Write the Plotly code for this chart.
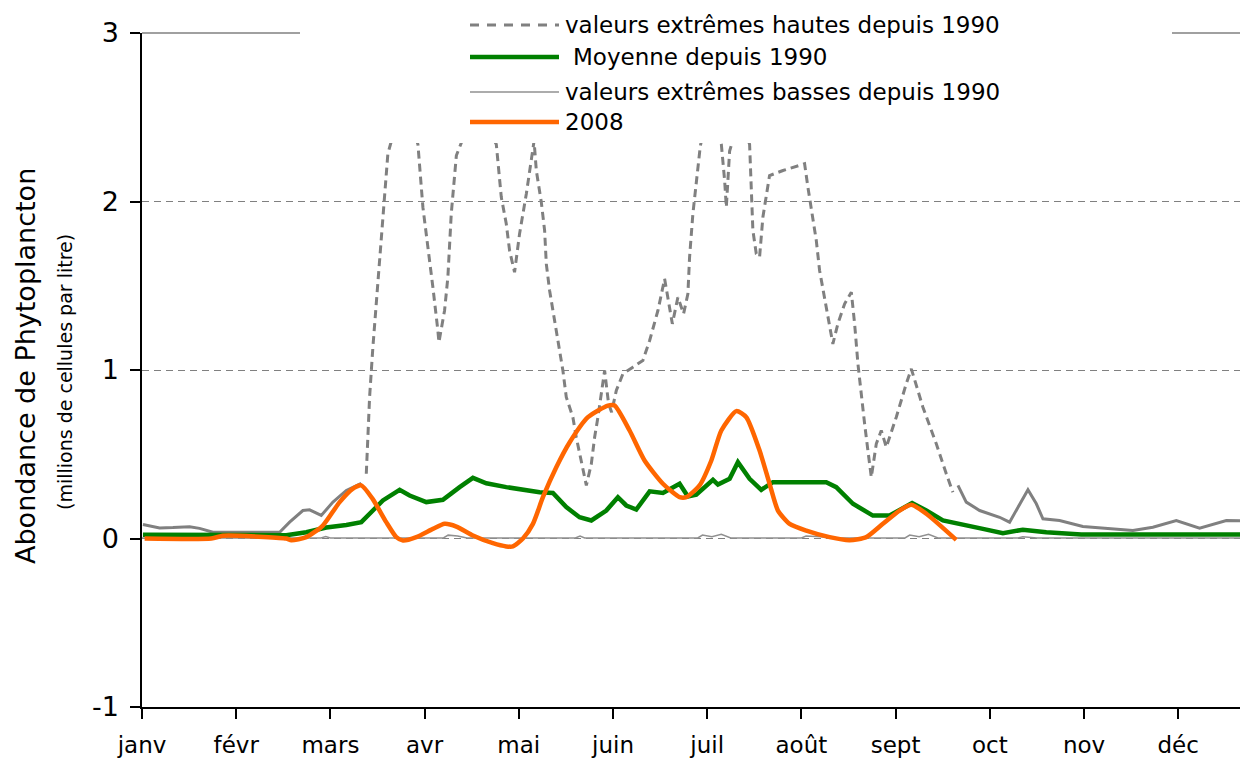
import plotly.graph_objects as go

# ---------------- data (x in months since 1 Jan, values in millions of cells / litre) ----------------
months = ["janv", "févr", "mars", "avr", "mai", "juin", "juil", "août", "sept", "oct", "nov", "déc"]
y_ticks = [-1, 0, 1, 2, 3]
y_tick_text = ["-1", "0", "1", "2", "3"]

high_x = [0.01, 0.187, 0.328, 0.505, 0.611, 0.753, 1.461, 1.567, 1.708, 1.779, 1.903, 2.027, 2.169, 2.328,
          2.381, 2.416, 2.451, 2.487, 2.522, 2.557, 2.610, 2.766, 2.929, 2.982, 3.053, 3.088, 3.141, 3.152,
          3.212, 3.247, 3.283, 3.337, 3.531, 3.761, 3.814, 3.867, 3.902, 3.955, 4.008, 4.080, 4.150, 4.162,
          4.186, 4.239, 4.274, 4.292, 4.327, 4.380, 4.415, 4.468, 4.504, 4.574, 4.610, 4.663, 4.717, 4.770,
          4.805, 4.840, 4.876, 4.911, 4.953, 4.985, 5.035, 5.105, 5.211, 5.317, 5.389, 5.477, 5.548, 5.630,
          5.689, 5.749, 5.795, 5.813, 5.848, 5.884, 5.927, 6.036, 6.150, 6.185, 6.203, 6.238, 6.344, 6.450,
          6.468, 6.485, 6.521, 6.556, 6.591, 6.662, 6.804, 6.946, 7.034, 7.069, 7.105, 7.158, 7.193, 7.246,
          7.281, 7.334, 7.387, 7.459, 7.530, 7.565, 7.600, 7.636, 7.671, 7.706, 7.742, 7.795, 7.848, 7.901,
          8.007, 8.113, 8.167, 8.290, 8.432, 8.538, 8.608, 8.662, 8.750, 8.892, 9.104, 9.210, 9.298, 9.405,
          9.494, 9.564, 9.741, 9.988, 10.519, 10.731, 10.980, 11.227, 11.511, 11.66]
high_y = [0.083, 0.063, 0.065, 0.07, 0.06, 0.037, 0.037, 0.097, 0.166, 0.17, 0.137, 0.216, 0.285, 0.328,
          0.384, 0.839, 1.135, 1.393, 1.66, 1.907, 2.283, 2.6, 2.34, 1.966, 1.67, 1.491, 1.234, 1.165,
          1.353, 1.551, 1.927, 2.273, 2.55, 2.34, 2.026, 1.868, 1.709, 1.58, 1.808, 2.046, 2.313, 2.36,
          2.184, 1.996, 1.828, 1.63, 1.472, 1.294, 1.175, 0.997, 0.839, 0.72, 0.601, 0.463, 0.315, 0.443,
          0.601, 0.72, 0.878, 0.997, 0.80, 0.75, 0.878, 0.977, 1.017, 1.056, 1.175, 1.353, 1.541, 1.274,
          1.432, 1.333, 1.452, 1.67, 1.927, 2.125, 2.33, 2.6, 2.34, 2.125, 1.966, 2.30, 2.5, 2.34,
          2.026, 1.828, 1.69, 1.67, 1.907, 2.154, 2.184, 2.208, 2.224, 2.085, 1.947, 1.769, 1.591, 1.432,
          1.313, 1.155, 1.274, 1.393, 1.462, 1.274, 1.037, 0.839, 0.681, 0.522, 0.364, 0.562, 0.641, 0.542,
          0.72, 0.918, 1.007, 0.779, 0.562, 0.384, 0.275, 0.315, 0.216, 0.166, 0.126, 0.097, 0.186, 0.289,
          0.206, 0.117, 0.107, 0.071, 0.047, 0.067, 0.107, 0.061, 0.107, 0.105]

mean_x = [0.01, 1.532, 1.744, 1.956, 2.169, 2.328, 2.451, 2.557, 2.735, 2.841, 3.018, 3.194, 3.372, 3.513,
          3.655, 3.867, 4.221, 4.362, 4.504, 4.645, 4.770, 4.929, 5.052, 5.141, 5.247, 5.389, 5.530, 5.707,
          5.795, 5.884, 6.061, 6.114, 6.238, 6.326, 6.450, 6.574, 6.697, 7.264, 7.370, 7.547, 7.759, 7.936,
          8.175, 8.326, 8.502, 8.786, 8.927, 9.139, 9.351, 9.600, 9.971, 11.66]
mean_y = [0.022, 0.02, 0.037, 0.065, 0.08, 0.097, 0.166, 0.226, 0.289, 0.255, 0.216, 0.23, 0.305, 0.36,
          0.328, 0.305, 0.275, 0.27, 0.186, 0.126, 0.107, 0.166, 0.245, 0.196, 0.172, 0.28, 0.27, 0.325,
          0.249, 0.26, 0.348, 0.32, 0.354, 0.453, 0.354, 0.289, 0.334, 0.334, 0.305, 0.206, 0.136, 0.136,
          0.21, 0.166, 0.107, 0.077, 0.057, 0.032, 0.052, 0.037, 0.024, 0.024]

low_x = [0.0, 1.9, 1.95, 2.0, 3.2, 3.25, 3.35, 3.45, 4.6, 4.65, 4.7, 5.9, 5.95, 6.05, 6.15, 6.25,
         7.0, 7.05, 7.2, 7.3, 8.1, 8.15, 8.25, 8.35, 8.45, 9.3, 9.35, 9.5, 11.66]
low_y = [0.003, 0.003, 0.012, 0.003, 0.003, 0.02, 0.015, 0.003, 0.003, 0.015, 0.003, 0.003, 0.02, 0.01,
         0.025, 0.003, 0.003, 0.015, 0.01, 0.003, 0.003, 0.02, 0.01, 0.025, 0.003, 0.003, 0.01, 0.003, 0.003]

y2008_x = [0.028, 0.736, 0.856, 1.036, 1.532, 1.585, 1.744, 1.920, 2.098, 2.236, 2.328, 2.448, 2.593, 2.700,
           2.770, 2.912, 3.088, 3.212, 3.337, 3.513, 3.725, 3.867, 3.937, 4.044, 4.150, 4.256, 4.398, 4.539,
           4.734, 4.946, 5.017, 5.176, 5.335, 5.530, 5.707, 5.778, 5.919, 6.044, 6.150, 6.309, 6.415, 6.556,
           6.662, 6.751, 6.875, 7.052, 7.299, 7.511, 7.689, 7.865, 8.042, 8.167, 8.326, 8.644]
y2008_y = [0.0, 0.0, 0.016, 0.016, 0.0, -0.01, 0.008, 0.077, 0.216, 0.295, 0.315, 0.235, 0.097, 0.008,
           -0.012, 0.008, 0.057, 0.087, 0.071, 0.018, -0.028, -0.047, -0.047, 0.0, 0.087, 0.245, 0.423, 0.57,
           0.72, 0.789, 0.789, 0.641, 0.463, 0.325, 0.245, 0.245, 0.315, 0.463, 0.641, 0.756, 0.72, 0.522,
           0.325, 0.166, 0.087, 0.047, 0.008, -0.01, 0.008, 0.087, 0.166, 0.2, 0.147, -0.008]

legend_labels = ["valeurs extrêmes hautes depuis 1990", "Moyenne depuis 1990",
                 "valeurs extrêmes basses depuis 1990", "2008"]

# ---------------- styles ----------------
GRAY = "#808080"
LOWGRAY = "#909090"
GREEN = "#008000"
ORANGE = "#FF6600"
FONT = "DejaVu Sans"

# the high-extreme series looks solid where it is flat (winter tails) and dashed elsewhere
DASH_START, DASH_END = 2.33, 8.61
high_dashed = [y if DASH_START - 1e-9 <= x <= DASH_END + 1e-9 else None for x, y in zip(high_x, high_y)]
high_solid = [y if (x <= DASH_START + 1e-9 or x >= DASH_END - 1e-9) else None for x, y in zip(high_x, high_y)]

fig = go.Figure()
fig.add_trace(go.Scatter(x=high_x, y=high_dashed, mode="lines", name=legend_labels[0],
                         line=dict(color=GRAY, width=3, dash="8px,5px"), connectgaps=False,
                         showlegend=False))
fig.add_trace(go.Scatter(x=high_x, y=high_solid, mode="lines", name=legend_labels[0],
                         line=dict(color=GRAY, width=3), connectgaps=False, showlegend=False))
fig.add_trace(go.Scatter(x=low_x, y=low_y, mode="lines", name=legend_labels[2],
                         line=dict(color=LOWGRAY, width=1.5), showlegend=False))
fig.add_trace(go.Scatter(x=mean_x, y=mean_y, mode="lines", name=legend_labels[1],
                         line=dict(color=GREEN, width=4.5), showlegend=False))
fig.add_trace(go.Scatter(x=y2008_x, y=y2008_y, mode="lines", name=legend_labels[3],
                         line=dict(color=ORANGE, width=4.5, shape="spline", smoothing=0.6), showlegend=False))

# ---------------- layout geometry ----------------
W, H = 1240, 760
ML, MR, MT, MB = 142, 0, 33, 53
PW, PH = W - ML - MR, H - MT - MB
MONTH_PX = 94.2
XMAX = PW / MONTH_PX


def px_x(p):
    return (p - ML) / PW


def px_y(p):
    return (H - MB - p) / PH


shapes = [
    # solid top border of plot area at y = 3
    dict(type="line", xref="paper", yref="paper", x0=0, x1=1, y0=1, y1=1,
         line=dict(color=GRAY, width=1.5), layer="below"),
    # opaque legend box (hides the tops of the peaks and the border)
    dict(type="rect", xref="paper", yref="paper", x0=px_x(300), x1=px_x(1172), y0=px_y(143), y1=px_y(-5),
         fillcolor="white", line=dict(width=0), layer="above"),
]

legend_rows = [25, 57, 92, 122]
legend_styles = [dict(color=GRAY, width=3, dash="9px,8px"), dict(color=GREEN, width=4.5),
                 dict(color=LOWGRAY, width=1.5), dict(color=ORANGE, width=4.5)]
text_x = [563, 571, 563, 563]
annotations = []
for row, style, label, tx in zip(legend_rows, legend_styles, legend_labels, text_x):
    shapes.append(dict(type="line", xref="paper", yref="paper", x0=px_x(470), x1=px_x(559),
                       y0=px_y(row), y1=px_y(row), line=style, layer="above"))
    annotations.append(dict(text=label, xref="paper", yref="paper", x=px_x(tx), y=px_y(row),
                            xanchor="left", yanchor="middle", showarrow=False,
                            font=dict(family=FONT, size=23, color="black")))

annotations.append(dict(text="Abondance de Phytoplancton", xref="paper", yref="paper",
                        x=px_x(25), y=px_y(366), textangle=-90, showarrow=False,
                        xanchor="center", yanchor="middle",
                        font=dict(family=FONT, size=27, color="black")))
annotations.append(dict(text="(millions de cellules par litre)", xref="paper", yref="paper",
                        x=px_x(65), y=px_y(372), textangle=-90, showarrow=False,
                        xanchor="center", yanchor="middle",
                        font=dict(family=FONT, size=19, color="black")))

fig.update_layout(
    width=W, height=H,
    margin=dict(l=ML, r=MR, t=MT, b=MB, pad=0),
    paper_bgcolor="white", plot_bgcolor="white",
    font=dict(family=FONT, color="black"),
    showlegend=False,
    shapes=shapes,
    annotations=annotations,
    xaxis=dict(range=[0, XMAX], tickmode="array", tickvals=list(range(12)), ticktext=months,
               showline=True, linecolor="black", linewidth=1.5, mirror=False,
               ticks="outside", ticklen=10, tickwidth=1.5, tickcolor="black",
               tickfont=dict(family=FONT, size=23, color="black"), ticklabelstandoff=7,
               showgrid=False, zeroline=False, fixedrange=True),
    yaxis=dict(range=[-1, 3], tickmode="array", tickvals=y_ticks, ticktext=y_tick_text,
               showline=True, linecolor="black", linewidth=1.5,
               ticks="outside", ticklen=10, tickwidth=1.5, tickcolor="black",
               tickfont=dict(family=FONT, size=27, color="black"), ticklabelstandoff=6,
               showgrid=True, gridcolor=GRAY, gridwidth=1.3, griddash="7px,5px",
               zeroline=False, fixedrange=True),
)

# remove the default 8px page margin so the figure fills the 1240x760 window exactly
fig.write_html("out.html", config={"displayModeBar": False},
               post_script="document.body.style.margin='0';document.body.style.overflow='hidden';")
